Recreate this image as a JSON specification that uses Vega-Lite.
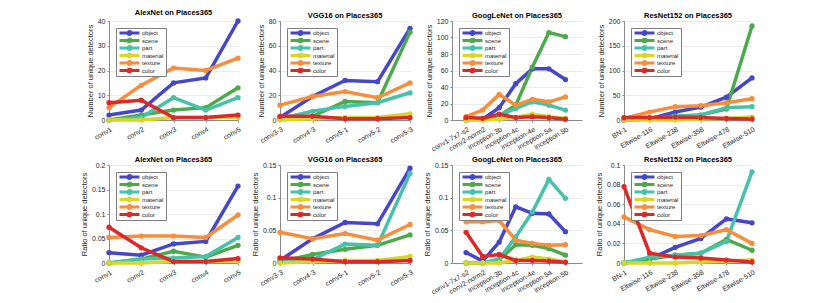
{
"$schema": "https://vega.github.io/schema/vega-lite/v6.json",
"padding": {"left": 80, "top": 8, "right": 5, "bottom": 5},
"config": {
  "font": "Liberation Sans",
  "view": {"stroke": null},
  "axis": {"labelFontSize": 7, "labelColor": "#262626", "titleFontSize": 7.5, "titleFontWeight": "normal", "titleColor": "#262626", "domainColor": "#8a8a8a", "tickColor": "#8a8a8a", "tickSize": 2, "gridColor": "#ebebeb", "labelPadding": 2, "titlePadding": 3},
  "axisX": {"grid": false, "labelAngle": -30, "labelAlign": "right", "labelBaseline": "top", "labelPadding": 3, "labelOverlap": false, "labelBound": false},
  "axisY": {"grid": true},
  "legend": {"orient": "top-left", "offset": 7, "fillColor": "white", "strokeColor": "#7f7f7f", "padding": 2, "labelFontSize": 6, "labelColor": "#262626", "symbolType": "M-1,0H9M4.75,0A0.75,0.75,0,1,1,3.25,0A0.75,0.75,0,1,1,4.75,0", "symbolSize": 16, "symbolStrokeWidth": 3, "rowPadding": 1.5, "clipHeight": 6, "labelOffset": 17},
  "title": {"fontSize": 7.5, "fontWeight": "bold", "color": "#000000", "offset": -2}
},
"datasets": {
"a1": [
{"layer":"conv1","i":1,"concept":"object","value":2},{"layer":"conv1","i":1,"concept":"scene","value":0},{"layer":"conv1","i":1,"concept":"part","value":0},{"layer":"conv1","i":1,"concept":"material","value":0},{"layer":"conv1","i":1,"concept":"texture","value":5},{"layer":"conv1","i":1,"concept":"color","value":7},
{"layer":"conv2","i":2,"concept":"object","value":4},{"layer":"conv2","i":2,"concept":"scene","value":2},{"layer":"conv2","i":2,"concept":"part","value":1},{"layer":"conv2","i":2,"concept":"material","value":0},{"layer":"conv2","i":2,"concept":"texture","value":14},{"layer":"conv2","i":2,"concept":"color","value":8},
{"layer":"conv3","i":3,"concept":"object","value":15},{"layer":"conv3","i":3,"concept":"scene","value":4},{"layer":"conv3","i":3,"concept":"part","value":9},{"layer":"conv3","i":3,"concept":"material","value":1},{"layer":"conv3","i":3,"concept":"texture","value":21},{"layer":"conv3","i":3,"concept":"color","value":1},
{"layer":"conv4","i":4,"concept":"object","value":17},{"layer":"conv4","i":4,"concept":"scene","value":5},{"layer":"conv4","i":4,"concept":"part","value":4},{"layer":"conv4","i":4,"concept":"material","value":1},{"layer":"conv4","i":4,"concept":"texture","value":20},{"layer":"conv4","i":4,"concept":"color","value":1},
{"layer":"conv5","i":5,"concept":"object","value":40},{"layer":"conv5","i":5,"concept":"scene","value":13},{"layer":"conv5","i":5,"concept":"part","value":9},{"layer":"conv5","i":5,"concept":"material","value":1},{"layer":"conv5","i":5,"concept":"texture","value":25},{"layer":"conv5","i":5,"concept":"color","value":2}
],
"a2": [
{"layer":"conv1","i":1,"concept":"object","value":0.021},{"layer":"conv1","i":1,"concept":"scene","value":0},{"layer":"conv1","i":1,"concept":"part","value":0},{"layer":"conv1","i":1,"concept":"material","value":0},{"layer":"conv1","i":1,"concept":"texture","value":0.052},{"layer":"conv1","i":1,"concept":"color","value":0.073},
{"layer":"conv2","i":2,"concept":"object","value":0.016},{"layer":"conv2","i":2,"concept":"scene","value":0.008},{"layer":"conv2","i":2,"concept":"part","value":0.008},{"layer":"conv2","i":2,"concept":"material","value":0},{"layer":"conv2","i":2,"concept":"texture","value":0.055},{"layer":"conv2","i":2,"concept":"color","value":0.031},
{"layer":"conv3","i":3,"concept":"object","value":0.039},{"layer":"conv3","i":3,"concept":"scene","value":0.024},{"layer":"conv3","i":3,"concept":"part","value":0.010},{"layer":"conv3","i":3,"concept":"material","value":0.003},{"layer":"conv3","i":3,"concept":"texture","value":0.055},{"layer":"conv3","i":3,"concept":"color","value":0.003},
{"layer":"conv4","i":4,"concept":"object","value":0.044},{"layer":"conv4","i":4,"concept":"scene","value":0.012},{"layer":"conv4","i":4,"concept":"part","value":0.013},{"layer":"conv4","i":4,"concept":"material","value":0.003},{"layer":"conv4","i":4,"concept":"texture","value":0.052},{"layer":"conv4","i":4,"concept":"color","value":0.003},
{"layer":"conv5","i":5,"concept":"object","value":0.157},{"layer":"conv5","i":5,"concept":"scene","value":0.036},{"layer":"conv5","i":5,"concept":"part","value":0.052},{"layer":"conv5","i":5,"concept":"material","value":0.004},{"layer":"conv5","i":5,"concept":"texture","value":0.098},{"layer":"conv5","i":5,"concept":"color","value":0.009}
],
"v1": [
{"layer":"conv3-3","i":1,"concept":"object","value":2},{"layer":"conv3-3","i":1,"concept":"scene","value":1},{"layer":"conv3-3","i":1,"concept":"part","value":1},{"layer":"conv3-3","i":1,"concept":"material","value":0},{"layer":"conv3-3","i":1,"concept":"texture","value":12},{"layer":"conv3-3","i":1,"concept":"color","value":3},
{"layer":"conv4-3","i":2,"concept":"object","value":19},{"layer":"conv4-3","i":2,"concept":"scene","value":3},{"layer":"conv4-3","i":2,"concept":"part","value":7},{"layer":"conv4-3","i":2,"concept":"material","value":1},{"layer":"conv4-3","i":2,"concept":"texture","value":19},{"layer":"conv4-3","i":2,"concept":"color","value":3},
{"layer":"conv5-1","i":3,"concept":"object","value":32},{"layer":"conv5-1","i":3,"concept":"scene","value":15},{"layer":"conv5-1","i":3,"concept":"part","value":11},{"layer":"conv5-1","i":3,"concept":"material","value":2},{"layer":"conv5-1","i":3,"concept":"texture","value":23},{"layer":"conv5-1","i":3,"concept":"color","value":1},
{"layer":"conv5-2","i":4,"concept":"object","value":31},{"layer":"conv5-2","i":4,"concept":"scene","value":14},{"layer":"conv5-2","i":4,"concept":"part","value":14},{"layer":"conv5-2","i":4,"concept":"material","value":2},{"layer":"conv5-2","i":4,"concept":"texture","value":18},{"layer":"conv5-2","i":4,"concept":"color","value":1},
{"layer":"conv5-3","i":5,"concept":"object","value":74},{"layer":"conv5-3","i":5,"concept":"scene","value":71},{"layer":"conv5-3","i":5,"concept":"part","value":22},{"layer":"conv5-3","i":5,"concept":"material","value":5},{"layer":"conv5-3","i":5,"concept":"texture","value":30},{"layer":"conv5-3","i":5,"concept":"color","value":2}
],
"v2": [
{"layer":"conv3-3","i":1,"concept":"object","value":0.004},{"layer":"conv3-3","i":1,"concept":"scene","value":0.002},{"layer":"conv3-3","i":1,"concept":"part","value":0.001},{"layer":"conv3-3","i":1,"concept":"material","value":0},{"layer":"conv3-3","i":1,"concept":"texture","value":0.047},{"layer":"conv3-3","i":1,"concept":"color","value":0.008},
{"layer":"conv4-3","i":2,"concept":"object","value":0.037},{"layer":"conv4-3","i":2,"concept":"scene","value":0.013},{"layer":"conv4-3","i":2,"concept":"part","value":0.005},{"layer":"conv4-3","i":2,"concept":"material","value":0.002},{"layer":"conv4-3","i":2,"concept":"texture","value":0.037},{"layer":"conv4-3","i":2,"concept":"color","value":0.006},
{"layer":"conv5-1","i":3,"concept":"object","value":0.062},{"layer":"conv5-1","i":3,"concept":"scene","value":0.021},{"layer":"conv5-1","i":3,"concept":"part","value":0.029},{"layer":"conv5-1","i":3,"concept":"material","value":0.004},{"layer":"conv5-1","i":3,"concept":"texture","value":0.045},{"layer":"conv5-1","i":3,"concept":"color","value":0.002},
{"layer":"conv5-2","i":4,"concept":"object","value":0.060},{"layer":"conv5-2","i":4,"concept":"scene","value":0.027},{"layer":"conv5-2","i":4,"concept":"part","value":0.027},{"layer":"conv5-2","i":4,"concept":"material","value":0.004},{"layer":"conv5-2","i":4,"concept":"texture","value":0.035},{"layer":"conv5-2","i":4,"concept":"color","value":0.002},
{"layer":"conv5-3","i":5,"concept":"object","value":0.145},{"layer":"conv5-3","i":5,"concept":"scene","value":0.043},{"layer":"conv5-3","i":5,"concept":"part","value":0.137},{"layer":"conv5-3","i":5,"concept":"material","value":0.010},{"layer":"conv5-3","i":5,"concept":"texture","value":0.059},{"layer":"conv5-3","i":5,"concept":"color","value":0.004}
],
"g1": [
{"layer":"conv1-7x7-s2","i":1,"concept":"object","value":1},{"layer":"conv1-7x7-s2","i":1,"concept":"scene","value":0},{"layer":"conv1-7x7-s2","i":1,"concept":"part","value":0},{"layer":"conv1-7x7-s2","i":1,"concept":"material","value":0},{"layer":"conv1-7x7-s2","i":1,"concept":"texture","value":4},{"layer":"conv1-7x7-s2","i":1,"concept":"color","value":3},
{"layer":"conv2-norm2","i":2,"concept":"object","value":1},{"layer":"conv2-norm2","i":2,"concept":"scene","value":1},{"layer":"conv2-norm2","i":2,"concept":"part","value":1},{"layer":"conv2-norm2","i":2,"concept":"material","value":0},{"layer":"conv2-norm2","i":2,"concept":"texture","value":12},{"layer":"conv2-norm2","i":2,"concept":"color","value":2},
{"layer":"inception-3b","i":3,"concept":"object","value":15},{"layer":"inception-3b","i":3,"concept":"scene","value":5},{"layer":"inception-3b","i":3,"concept":"part","value":5},{"layer":"inception-3b","i":3,"concept":"material","value":1},{"layer":"inception-3b","i":3,"concept":"texture","value":31},{"layer":"inception-3b","i":3,"concept":"color","value":7},
{"layer":"inception-4c","i":4,"concept":"object","value":44},{"layer":"inception-4c","i":4,"concept":"scene","value":18},{"layer":"inception-4c","i":4,"concept":"part","value":14},{"layer":"inception-4c","i":4,"concept":"material","value":3},{"layer":"inception-4c","i":4,"concept":"texture","value":18},{"layer":"inception-4c","i":4,"concept":"color","value":3},
{"layer":"inception-4e","i":5,"concept":"object","value":62},{"layer":"inception-4e","i":5,"concept":"scene","value":64},{"layer":"inception-4e","i":5,"concept":"part","value":22},{"layer":"inception-4e","i":5,"concept":"material","value":7},{"layer":"inception-4e","i":5,"concept":"texture","value":25},{"layer":"inception-4e","i":5,"concept":"color","value":4},
{"layer":"inception-5a","i":6,"concept":"object","value":62},{"layer":"inception-5a","i":6,"concept":"scene","value":106},{"layer":"inception-5a","i":6,"concept":"part","value":18},{"layer":"inception-5a","i":6,"concept":"material","value":4},{"layer":"inception-5a","i":6,"concept":"texture","value":22},{"layer":"inception-5a","i":6,"concept":"color","value":3},
{"layer":"inception-5b","i":7,"concept":"object","value":49},{"layer":"inception-5b","i":7,"concept":"scene","value":101},{"layer":"inception-5b","i":7,"concept":"part","value":12},{"layer":"inception-5b","i":7,"concept":"material","value":2},{"layer":"inception-5b","i":7,"concept":"texture","value":28},{"layer":"inception-5b","i":7,"concept":"color","value":1}
],
"g2": [
{"layer":"conv1-7x7-s2","i":1,"concept":"object","value":0.016},{"layer":"conv1-7x7-s2","i":1,"concept":"scene","value":0},{"layer":"conv1-7x7-s2","i":1,"concept":"part","value":0},{"layer":"conv1-7x7-s2","i":1,"concept":"material","value":0},{"layer":"conv1-7x7-s2","i":1,"concept":"texture","value":0.063},{"layer":"conv1-7x7-s2","i":1,"concept":"color","value":0.047},
{"layer":"conv2-norm2","i":2,"concept":"object","value":0.003},{"layer":"conv2-norm2","i":2,"concept":"scene","value":0},{"layer":"conv2-norm2","i":2,"concept":"part","value":0},{"layer":"conv2-norm2","i":2,"concept":"material","value":0},{"layer":"conv2-norm2","i":2,"concept":"texture","value":0.063},{"layer":"conv2-norm2","i":2,"concept":"color","value":0.010},
{"layer":"inception-3b","i":3,"concept":"object","value":0.032},{"layer":"inception-3b","i":3,"concept":"scene","value":0.005},{"layer":"inception-3b","i":3,"concept":"part","value":0.006},{"layer":"inception-3b","i":3,"concept":"material","value":0},{"layer":"inception-3b","i":3,"concept":"texture","value":0.065},{"layer":"inception-3b","i":3,"concept":"color","value":0.013},
{"layer":"inception-4c","i":4,"concept":"object","value":0.086},{"layer":"inception-4c","i":4,"concept":"scene","value":0.028},{"layer":"inception-4c","i":4,"concept":"part","value":0.040},{"layer":"inception-4c","i":4,"concept":"material","value":0.004},{"layer":"inception-4c","i":4,"concept":"texture","value":0.035},{"layer":"inception-4c","i":4,"concept":"color","value":0.004},
{"layer":"inception-4e","i":5,"concept":"object","value":0.076},{"layer":"inception-4e","i":5,"concept":"scene","value":0.027},{"layer":"inception-4e","i":5,"concept":"part","value":0.078},{"layer":"inception-4e","i":5,"concept":"material","value":0.009},{"layer":"inception-4e","i":5,"concept":"texture","value":0.030},{"layer":"inception-4e","i":5,"concept":"color","value":0.004},
{"layer":"inception-5a","i":6,"concept":"object","value":0.075},{"layer":"inception-5a","i":6,"concept":"scene","value":0.022},{"layer":"inception-5a","i":6,"concept":"part","value":0.128},{"layer":"inception-5a","i":6,"concept":"material","value":0.006},{"layer":"inception-5a","i":6,"concept":"texture","value":0.027},{"layer":"inception-5a","i":6,"concept":"color","value":0.003},
{"layer":"inception-5b","i":7,"concept":"object","value":0.048},{"layer":"inception-5b","i":7,"concept":"scene","value":0.012},{"layer":"inception-5b","i":7,"concept":"part","value":0.099},{"layer":"inception-5b","i":7,"concept":"material","value":0.002},{"layer":"inception-5b","i":7,"concept":"texture","value":0.028},{"layer":"inception-5b","i":7,"concept":"color","value":0.001}
],
"r1": [
{"layer":"BN-1","i":1,"concept":"object","value":0},{"layer":"BN-1","i":1,"concept":"scene","value":0},{"layer":"BN-1","i":1,"concept":"part","value":0},{"layer":"BN-1","i":1,"concept":"material","value":0},{"layer":"BN-1","i":1,"concept":"texture","value":3},{"layer":"BN-1","i":1,"concept":"color","value":5},
{"layer":"Eltwise-116","i":2,"concept":"object","value":2},{"layer":"Eltwise-116","i":2,"concept":"scene","value":2},{"layer":"Eltwise-116","i":2,"concept":"part","value":2},{"layer":"Eltwise-116","i":2,"concept":"material","value":0},{"layer":"Eltwise-116","i":2,"concept":"texture","value":16},{"layer":"Eltwise-116","i":2,"concept":"color","value":5},
{"layer":"Eltwise-238","i":3,"concept":"object","value":16},{"layer":"Eltwise-238","i":3,"concept":"scene","value":5},{"layer":"Eltwise-238","i":3,"concept":"part","value":8},{"layer":"Eltwise-238","i":3,"concept":"material","value":0},{"layer":"Eltwise-238","i":3,"concept":"texture","value":27},{"layer":"Eltwise-238","i":3,"concept":"color","value":6},
{"layer":"Eltwise-358","i":4,"concept":"object","value":26},{"layer":"Eltwise-358","i":4,"concept":"scene","value":10},{"layer":"Eltwise-358","i":4,"concept":"part","value":10},{"layer":"Eltwise-358","i":4,"concept":"material","value":2},{"layer":"Eltwise-358","i":4,"concept":"texture","value":29},{"layer":"Eltwise-358","i":4,"concept":"color","value":5},
{"layer":"Eltwise-478","i":5,"concept":"object","value":46},{"layer":"Eltwise-478","i":5,"concept":"scene","value":22},{"layer":"Eltwise-478","i":5,"concept":"part","value":25},{"layer":"Eltwise-478","i":5,"concept":"material","value":3},{"layer":"Eltwise-478","i":5,"concept":"texture","value":35},{"layer":"Eltwise-478","i":5,"concept":"color","value":3},
{"layer":"Eltwise-510","i":6,"concept":"object","value":85},{"layer":"Eltwise-510","i":6,"concept":"scene","value":190},{"layer":"Eltwise-510","i":6,"concept":"part","value":27},{"layer":"Eltwise-510","i":6,"concept":"material","value":6},{"layer":"Eltwise-510","i":6,"concept":"texture","value":43},{"layer":"Eltwise-510","i":6,"concept":"color","value":2}
],
"r2": [
{"layer":"BN-1","i":1,"concept":"object","value":0},{"layer":"BN-1","i":1,"concept":"scene","value":0},{"layer":"BN-1","i":1,"concept":"part","value":0},{"layer":"BN-1","i":1,"concept":"material","value":0},{"layer":"BN-1","i":1,"concept":"texture","value":0.047},{"layer":"BN-1","i":1,"concept":"color","value":0.078},
{"layer":"Eltwise-116","i":2,"concept":"object","value":0.004},{"layer":"Eltwise-116","i":2,"concept":"scene","value":0.004},{"layer":"Eltwise-116","i":2,"concept":"part","value":0.006},{"layer":"Eltwise-116","i":2,"concept":"material","value":0},{"layer":"Eltwise-116","i":2,"concept":"texture","value":0.034},{"layer":"Eltwise-116","i":2,"concept":"color","value":0.010},
{"layer":"Eltwise-238","i":3,"concept":"object","value":0.016},{"layer":"Eltwise-238","i":3,"concept":"scene","value":0.008},{"layer":"Eltwise-238","i":3,"concept":"part","value":0.008},{"layer":"Eltwise-238","i":3,"concept":"material","value":0},{"layer":"Eltwise-238","i":3,"concept":"texture","value":0.027},{"layer":"Eltwise-238","i":3,"concept":"color","value":0.006},
{"layer":"Eltwise-358","i":4,"concept":"object","value":0.025},{"layer":"Eltwise-358","i":4,"concept":"scene","value":0.010},{"layer":"Eltwise-358","i":4,"concept":"part","value":0.010},{"layer":"Eltwise-358","i":4,"concept":"material","value":0.001},{"layer":"Eltwise-358","i":4,"concept":"texture","value":0.028},{"layer":"Eltwise-358","i":4,"concept":"color","value":0.005},
{"layer":"Eltwise-478","i":5,"concept":"object","value":0.045},{"layer":"Eltwise-478","i":5,"concept":"scene","value":0.024},{"layer":"Eltwise-478","i":5,"concept":"part","value":0.022},{"layer":"Eltwise-478","i":5,"concept":"material","value":0.002},{"layer":"Eltwise-478","i":5,"concept":"texture","value":0.034},{"layer":"Eltwise-478","i":5,"concept":"color","value":0.003},
{"layer":"Eltwise-510","i":6,"concept":"object","value":0.041},{"layer":"Eltwise-510","i":6,"concept":"scene","value":0.013},{"layer":"Eltwise-510","i":6,"concept":"part","value":0.093},{"layer":"Eltwise-510","i":6,"concept":"material","value":0.003},{"layer":"Eltwise-510","i":6,"concept":"texture","value":0.020},{"layer":"Eltwise-510","i":6,"concept":"color","value":0.001}
]
},
"bounds": "flush",
"columns": 4,
"spacing": {"column": 42, "row": 45},
"resolve": {"scale": {"color": "independent"}, "legend": {"color": "independent"}},
"concat": [
 {"width": 129, "height": 99, "title": "AlexNet on Places365", "data": {"name": "a1"},
  "mark": {"type": "line", "strokeWidth": 3.5, "point": {"filled": true, "size": 28}},
  "encoding": {
   "x": {"field": "i", "type": "quantitative", "scale": {"domain": [1, 5], "nice": false, "zero": false}, "axis": {"title": null, "values": [1, 2, 3, 4, 5], "labelExpr": "['conv1','conv2','conv3','conv4','conv5'][datum.value-1]"}},
   "y": {"field": "value", "type": "quantitative", "scale": {"domain": [0, 40], "nice": false}, "axis": {"title": "Number of unique detectors", "values": [0, 10, 20, 30, 40], "format": "d"}},
   "color": {"field": "concept", "type": "nominal", "scale": {"domain": ["object", "scene", "part", "material", "texture", "color"], "range": ["#4646c8", "#4caa4c", "#46c2aa", "#d7d72a", "#f58e3d", "#dc2828"]}, "legend": {"title": null}}
  }},
 {"width": 130, "height": 99, "title": "VGG16 on Places365", "data": {"name": "v1"},
  "mark": {"type": "line", "strokeWidth": 3.5, "point": {"filled": true, "size": 28}},
  "encoding": {
   "x": {"field": "i", "type": "quantitative", "scale": {"domain": [1, 5], "nice": false, "zero": false}, "axis": {"title": null, "values": [1, 2, 3, 4, 5], "labelExpr": "['conv3-3','conv4-3','conv5-1','conv5-2','conv5-3'][datum.value-1]"}},
   "y": {"field": "value", "type": "quantitative", "scale": {"domain": [0, 80], "nice": false}, "axis": {"title": "Number of unique detectors", "values": [0, 20, 40, 60, 80], "format": "d"}},
   "color": {"field": "concept", "type": "nominal", "scale": {"domain": ["object", "scene", "part", "material", "texture", "color"], "range": ["#4646c8", "#4caa4c", "#46c2aa", "#d7d72a", "#f58e3d", "#dc2828"]}, "legend": {"title": null}}
  }},
 {"width": 130, "height": 99, "title": "GoogLeNet on Places365", "data": {"name": "g1"},
  "mark": {"type": "line", "strokeWidth": 3.5, "point": {"filled": true, "size": 28}},
  "encoding": {
   "x": {"field": "i", "type": "quantitative", "scale": {"domain": [0.15, 8], "nice": false, "zero": false}, "axis": {"title": null, "values": [1, 2, 3, 4, 5, 6, 7], "labelExpr": "['conv1-7x7-s2','conv2-norm2','inception-3b','inception-4c','inception-4e','inception-5a','inception-5b'][datum.value-1]"}},
   "y": {"field": "value", "type": "quantitative", "scale": {"domain": [0, 120], "nice": false}, "axis": {"title": "Number of unique detectors", "values": [0, 20, 40, 60, 80, 100, 120], "format": "d"}},
   "color": {"field": "concept", "type": "nominal", "scale": {"domain": ["object", "scene", "part", "material", "texture", "color"], "range": ["#4646c8", "#4caa4c", "#46c2aa", "#d7d72a", "#f58e3d", "#dc2828"]}, "legend": {"title": null}}
  }},
 {"width": 128, "height": 99, "title": "ResNet152 on Places365", "data": {"name": "r1"},
  "mark": {"type": "line", "strokeWidth": 3.5, "point": {"filled": true, "size": 28}},
  "encoding": {
   "x": {"field": "i", "type": "quantitative", "scale": {"domain": [1, 6], "nice": false, "zero": false}, "axis": {"title": null, "values": [1, 2, 3, 4, 5, 6], "labelExpr": "['BN-1','Eltwise-116','Eltwise-238','Eltwise-358','Eltwise-478','Eltwise-510'][datum.value-1]"}},
   "y": {"field": "value", "type": "quantitative", "scale": {"domain": [0, 200], "nice": false}, "axis": {"title": "Number of unique detectors", "values": [0, 50, 100, 150, 200], "format": "d"}},
   "color": {"field": "concept", "type": "nominal", "scale": {"domain": ["object", "scene", "part", "material", "texture", "color"], "range": ["#4646c8", "#4caa4c", "#46c2aa", "#d7d72a", "#f58e3d", "#dc2828"]}, "legend": {"title": null}}
  }},
 {"width": 129, "height": 98, "title": "AlexNet on Places365", "data": {"name": "a2"},
  "mark": {"type": "line", "strokeWidth": 3.5, "point": {"filled": true, "size": 28}},
  "encoding": {
   "x": {"field": "i", "type": "quantitative", "scale": {"domain": [1, 5], "nice": false, "zero": false}, "axis": {"title": null, "values": [1, 2, 3, 4, 5], "labelExpr": "['conv1','conv2','conv3','conv4','conv5'][datum.value-1]"}},
   "y": {"field": "value", "type": "quantitative", "scale": {"domain": [0, 0.2], "nice": false}, "axis": {"title": "Ratio of unique detectors", "values": [0, 0.05, 0.1, 0.15, 0.2], "format": ".2~f"}},
   "color": {"field": "concept", "type": "nominal", "scale": {"domain": ["object", "scene", "part", "material", "texture", "color"], "range": ["#4646c8", "#4caa4c", "#46c2aa", "#d7d72a", "#f58e3d", "#dc2828"]}, "legend": {"title": null}}
  }},
 {"width": 130, "height": 98, "title": "VGG16 on Places365", "data": {"name": "v2"},
  "mark": {"type": "line", "strokeWidth": 3.5, "point": {"filled": true, "size": 28}},
  "encoding": {
   "x": {"field": "i", "type": "quantitative", "scale": {"domain": [1, 5], "nice": false, "zero": false}, "axis": {"title": null, "values": [1, 2, 3, 4, 5], "labelExpr": "['conv3-3','conv4-3','conv5-1','conv5-2','conv5-3'][datum.value-1]"}},
   "y": {"field": "value", "type": "quantitative", "scale": {"domain": [0, 0.15], "nice": false}, "axis": {"title": "Ratio of unique detectors", "values": [0, 0.05, 0.1, 0.15], "format": ".2~f"}},
   "color": {"field": "concept", "type": "nominal", "scale": {"domain": ["object", "scene", "part", "material", "texture", "color"], "range": ["#4646c8", "#4caa4c", "#46c2aa", "#d7d72a", "#f58e3d", "#dc2828"]}, "legend": {"title": null}}
  }},
 {"width": 130, "height": 98, "title": "GoogLeNet on Places365", "data": {"name": "g2"},
  "mark": {"type": "line", "strokeWidth": 3.5, "point": {"filled": true, "size": 28}},
  "encoding": {
   "x": {"field": "i", "type": "quantitative", "scale": {"domain": [0.15, 8], "nice": false, "zero": false}, "axis": {"title": null, "values": [1, 2, 3, 4, 5, 6, 7], "labelExpr": "['conv1-7x7-s2','conv2-norm2','inception-3b','inception-4c','inception-4e','inception-5a','inception-5b'][datum.value-1]"}},
   "y": {"field": "value", "type": "quantitative", "scale": {"domain": [0, 0.15], "nice": false}, "axis": {"title": "Ratio of unique detectors", "values": [0, 0.05, 0.1, 0.15], "format": ".2~f"}},
   "color": {"field": "concept", "type": "nominal", "scale": {"domain": ["object", "scene", "part", "material", "texture", "color"], "range": ["#4646c8", "#4caa4c", "#46c2aa", "#d7d72a", "#f58e3d", "#dc2828"]}, "legend": {"title": null}}
  }},
 {"width": 128, "height": 98, "title": "ResNet152 on Places365", "data": {"name": "r2"},
  "mark": {"type": "line", "strokeWidth": 3.5, "point": {"filled": true, "size": 28}},
  "encoding": {
   "x": {"field": "i", "type": "quantitative", "scale": {"domain": [1, 6], "nice": false, "zero": false}, "axis": {"title": null, "values": [1, 2, 3, 4, 5, 6], "labelExpr": "['BN-1','Eltwise-116','Eltwise-238','Eltwise-358','Eltwise-478','Eltwise-510'][datum.value-1]"}},
   "y": {"field": "value", "type": "quantitative", "scale": {"domain": [0, 0.1], "nice": false}, "axis": {"title": "Ratio of unique detectors", "values": [0, 0.02, 0.04, 0.06, 0.08, 0.1], "format": ".2~f"}},
   "color": {"field": "concept", "type": "nominal", "scale": {"domain": ["object", "scene", "part", "material", "texture", "color"], "range": ["#4646c8", "#4caa4c", "#46c2aa", "#d7d72a", "#f58e3d", "#dc2828"]}, "legend": {"title": null}}
  }}
]
}
